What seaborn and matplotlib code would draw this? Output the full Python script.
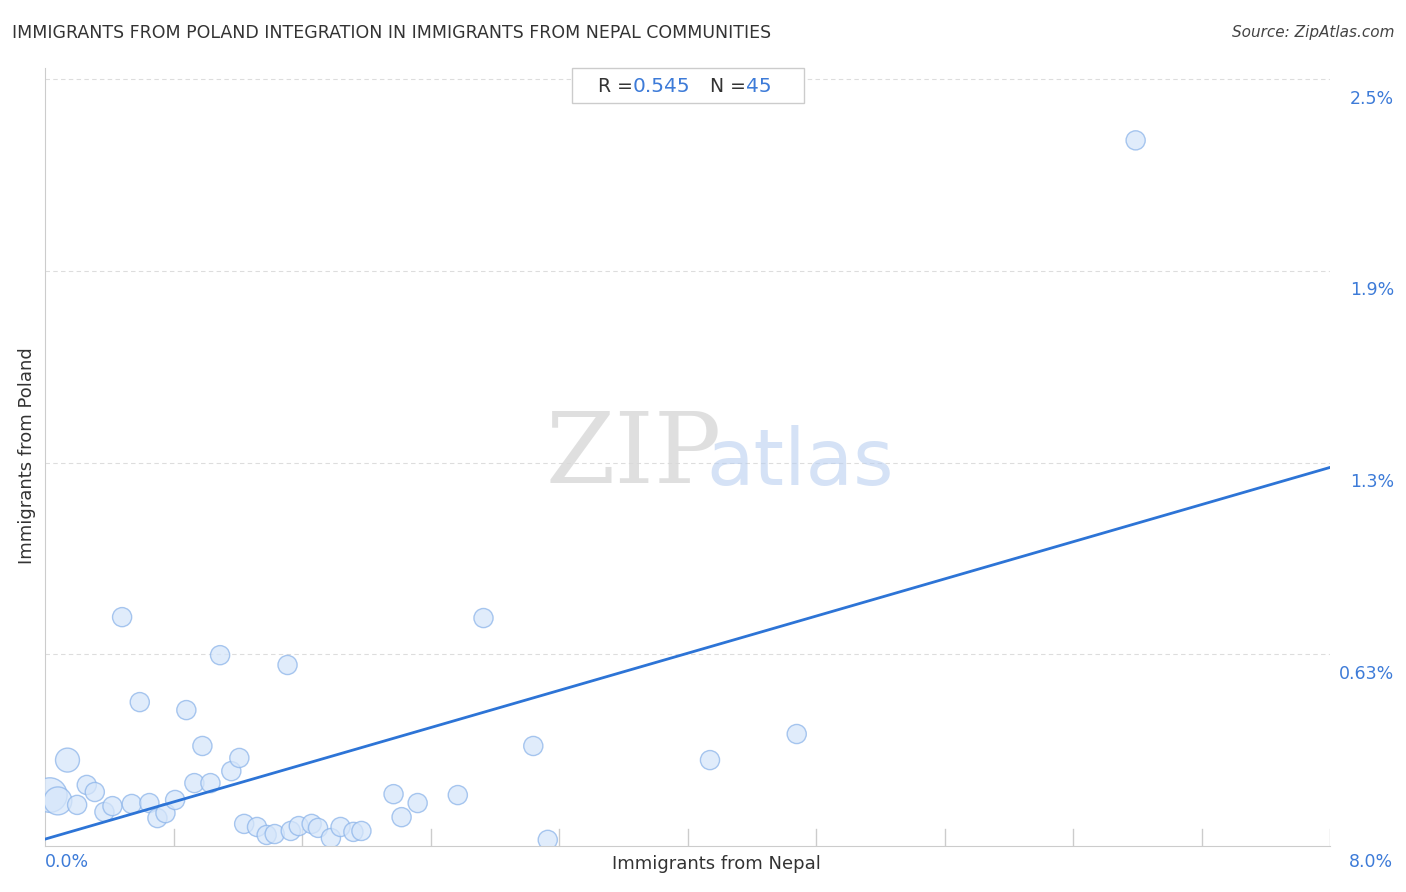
import numpy as np
import pandas as pd
import matplotlib
matplotlib.use("Agg")
import matplotlib.pyplot as plt
from matplotlib.patches import Rectangle
import seaborn as sns

nepal = [0.03,0.08,0.14,0.20,0.26,0.31,0.37,0.42,0.48,0.54,0.59,0.65,0.70,0.75,0.81,0.88,0.93,0.98,1.03,1.09,
         1.16,1.21,1.24,1.32,1.38,1.43,1.51,1.53,1.58,1.66,1.70,1.78,1.84,1.92,1.97,2.17,2.22,2.32,2.57,2.73,
         3.04,3.13,4.14,4.68,6.79]
poland = [0.166,0.147,0.280,0.134,0.199,0.176,0.111,0.130,0.746,0.137,0.469,0.140,0.091,0.107,0.150,0.443,0.205,0.326,0.205,0.622,
          0.244,0.287,0.072,0.062,0.036,0.039,0.590,0.049,0.065,0.072,0.059,0.026,0.062,0.046,0.049,0.169,0.094,0.140,0.166,0.743,
          0.326,0.020,0.280,0.365,2.30]
weight = [6,4,3,2,2,2,2,2,2,2,2,2,2,2,2,2,2,2,2,2,2,2,2,2,2,2,2,2,2,2,2,2,2,2,2,2,2,2,2,2,2,2,2,2,2]
y_ticks = [0.625, 1.25, 1.875, 2.5]
y_labels = ["0.63%", "1.3%", "1.9%", "2.5%"]

df = pd.DataFrame({"x": nepal, "y": poland, "w": weight})
fig = plt.figure(figsize=(14.06, 8.92), dpi=100)
ax = fig.add_axes([45/1406, 1-846/892, 1285/1406, (846-68)/892])
sns.scatterplot(data=df, x="x", y="y", size="w", sizes=(190, 620), color="#d6e6fa",
                edgecolor="#8db5ea", linewidth=1, alpha=0.75, legend=False, ax=ax, zorder=3)
b, a = np.polyfit(nepal, poland, 1)
xs = np.array([0, 8.0])
ax.plot(xs, a + b*xs, color="#2d74d6", lw=2, zorder=4)
ax.set_xlim(0, 8.0)
ax.set_ylim(0, 2.5*778/767)
for t in y_ticks:
    ax.axhline(t, color="#dddddd", ls=(0, (4, 3)), lw=0.8, zorder=1)
for i in range(1, 11):
    ax.axvline(i*0.8, ymin=0, ymax=17/778, color="#cccccc", lw=1)
ax.set_yticks([]); ax.set_xticks([])
for s in ["top", "right"]:
    ax.spines[s].set_visible(False)
ax.spines["left"].set_color("#cccccc"); ax.spines["bottom"].set_color("#cccccc")
for t, l in zip(y_ticks, y_labels):
    ax.text(1.05, t-0.035, l, transform=ax.get_yaxis_transform(), ha="right", va="top",
            color="#3d7bd8", fontsize=12.5)
ax.set_xlabel(""); ax.set_ylabel("")
fig.text(45/1406, 1-862/892, "0.0%", color="#3d7bd8", fontsize=12.5, va="center")
fig.text(1393/1406, 1-862/892, "8.0%", color="#3d7bd8", fontsize=12.5, va="center", ha="right")
fig.text(716/1406, 1-864/892, "Immigrants from Nepal", fontsize=13, ha="center", va="center", color="#333333")
fig.text(27/1406, 1-456/892, "Immigrants from Poland", fontsize=13, rotation=90, ha="center", va="center", color="#333333")
fig.text(12/1406, 1-33/892, "IMMIGRANTS FROM POLAND INTEGRATION IN IMMIGRANTS FROM NEPAL COMMUNITIES",
         fontsize=12.5, va="center", color="#333333")
fig.text(1394/1406, 1-33/892, "Source: ZipAtlas.com", fontsize=11, style="italic", ha="right", va="center", color="#444444")
fig.patches.append(Rectangle((572/1406, 1-103/892), 232/1406, 35/892, transform=fig.transFigure,
                             fc="white", ec="#cccccc", lw=1, zorder=5))
fig.text(598/1406, 1-86/892, "R =", fontsize=13.5, va="center", color="#333333", zorder=6)
fig.text(633/1406, 1-86/892, "0.545", fontsize=14.5, va="center", color="#3d7bd8", zorder=6)
fig.text(710/1406, 1-86/892, "N =", fontsize=13.5, va="center", color="#333333", zorder=6)
fig.text(746/1406, 1-86/892, "45", fontsize=14.5, va="center", color="#3d7bd8", zorder=6)
fig.text(634/1406, 1-456/892, "ZIP", fontsize=72, family="DejaVu Serif", color="#d8d8d8", ha="center", va="center", alpha=0.8)
fig.text(800/1406, 1-463/892, "atlas", fontsize=56, color="#b9cff0", ha="center", va="center", alpha=0.6)
fig.savefig("out.png", dpi=100)
